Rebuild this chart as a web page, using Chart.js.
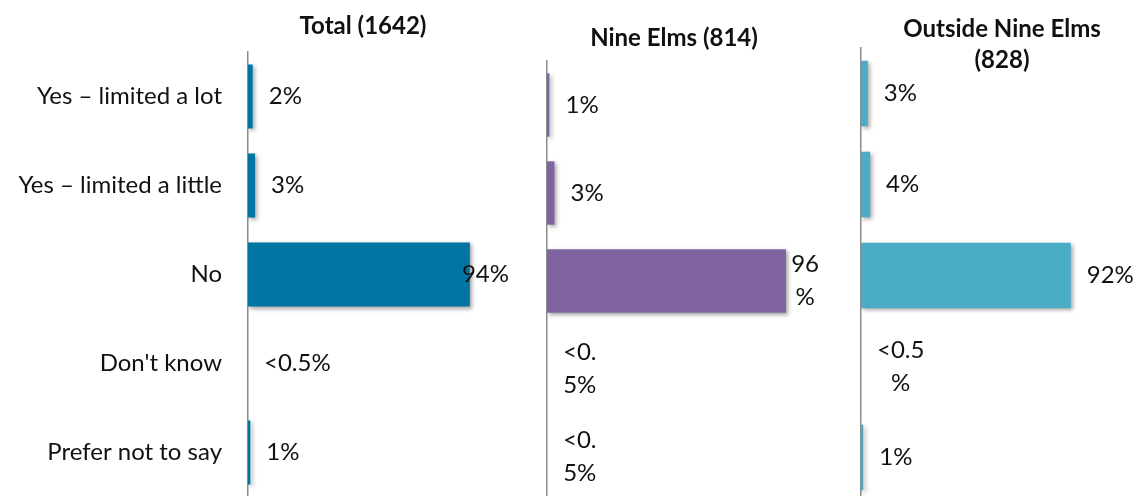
<!DOCTYPE html>
<html>
<head>
<meta charset="utf-8">
<script src="https://cdn.jsdelivr.net/npm/chart.js@4.4.1/dist/chart.umd.min.js"></script>
<style>
  html, body { margin: 0; padding: 0; background: #fff; overflow: hidden; }
  body { width: 1136px; height: 496px; position: relative; }
  canvas { position: absolute; top: 0; }
</style>
</head>
<body>
<canvas id="total" width="510" height="497" style="left:0px"></canvas>
<canvas id="nineElms" width="300" height="501" style="left:520px"></canvas>
<canvas id="outside" width="296" height="503" style="left:840px"></canvas>
<script>
// Risposte per gruppo (percentuali); 0 = meno di 0,5%
const categories = ['Yes – limited a lot', 'Yes – limited a little', 'No', "Don't know", 'Prefer not to say'];
const totalValues = [2, 3, 94, 0, 1];
const nineElmsValues = [1, 3, 96, 0, 0];
const outsideValues = [3, 4, 92, 0, 1];
const panelTitles = [['Total (1642)'], ['Nine Elms (814)'], ['Outside Nine Elms', '(828)']];

const FONT = 'Lato, "DejaVu Sans", sans-serif';
const TEXT_SIZE = 24;

function formatPct(v) {
    return v < 0.5 ? '<0.5%' : v + '%';
}

// spezza il testo carattere per carattere se supera maxW
function wrapText(ctx, text, maxW) {
    if (!maxW || ctx.measureText(text).width <= maxW) return [text];
    const lines = [];
    let cur = '';
    for (const ch of text) {
        if (cur && ctx.measureText(cur + ch).width > maxW) {
            lines.push(cur);
            cur = ch;
        } else {
            cur += ch;
        }
    }
    if (cur) lines.push(cur);
    return lines;
}

// ombra leggera sotto le barre
const barShadow = {
    id: 'barShadow',
    beforeDatasetsDraw(chart) {
        const ctx = chart.ctx;
        ctx.save();
        ctx.shadowColor = 'rgba(0,0,0,0.35)';
        ctx.shadowBlur = 4;
        ctx.shadowOffsetX = 2;
        ctx.shadowOffsetY = 2;
    },
    afterDatasetsDraw(chart) {
        chart.ctx.restore();
    }
};

// etichette dei valori a fine barra
const valueLabels = {
    id: 'valueLabels',
    afterDatasetsDraw(chart, args, opts) {
        const ctx = chart.ctx;
        const meta = chart.getDatasetMeta(0);
        const values = chart.data.datasets[0].data;
        ctx.save();
        ctx.font = TEXT_SIZE + 'px ' + FONT;
        ctx.fillStyle = '#111';
        ctx.textAlign = 'center';
        ctx.textBaseline = 'middle';
        meta.data.forEach((bar, i) => {
            const lines = wrapText(ctx, formatPct(values[i]), opts.wrap);
            const blockW = Math.max(...lines.map(l => ctx.measureText(l).width));
            const left = Math.min(bar.x + 16, chart.width - blockW - 1);
            lines.forEach((line, j) => {
                const y = bar.y + (j - (lines.length - 1) / 2) * 33;
                ctx.fillText(line, left + blockW / 2, y);
            });
        });
        ctx.restore();
    }
};

// titolo del pannello in posizione fissa
const panelTitle = {
    id: 'panelTitle',
    afterDraw(chart, args, opts) {
        const ctx = chart.ctx;
        ctx.save();
        ctx.font = 'bold 24px ' + FONT;
        ctx.fillStyle = '#111';
        ctx.textAlign = 'center';
        ctx.textBaseline = 'middle';
        opts.lines.forEach((line, j) => {
            ctx.fillText(line, opts.x, opts.y + j * 31);
        });
        ctx.restore();
    }
};

function makePanel(id, values, color, cfg) {
    new Chart(document.getElementById(id), {
        type: 'bar',
        data: {
            labels: categories,
            datasets: [{
                data: values,
                backgroundColor: color,
                borderWidth: 0,
                barPercentage: 0.72,
                categoryPercentage: 1
            }]
        },
        options: {
            indexAxis: 'y',
            responsive: false,
            animation: false,
            layout: { padding: { top: cfg.top, right: cfg.right, bottom: 0, left: 0 } },
            plugins: {
                legend: { display: false },
                tooltip: { enabled: false },
                valueLabels: { wrap: cfg.wrap },
                panelTitle: { lines: cfg.title, x: cfg.titleX, y: cfg.titleY }
            },
            scales: {
                x: { display: false, min: 0, max: 100 },
                y: {
                    grid: { display: false, drawTicks: false },
                    border: { display: true, color: '#8c8c8c', width: 1.5 },
                    ticks: {
                        display: cfg.showTicks,
                        color: '#111',
                        padding: 26,
                        autoSkip: false,
                        font: { family: FONT, size: TEXT_SIZE }
                    },
                    afterFit(scale) {
                        scale.width = cfg.axisWidth;
                        scale.paddingTop = 0;
                        scale.paddingBottom = 0;
                    }
                }
            }
        },
        plugins: [barShadow, valueLabels, panelTitle]
    });
}

makePanel('total', totalValues, '#0074a3', {
    top: 52, right: 26, axisWidth: 248, showTicks: true, wrap: 0,
    title: panelTitles[0], titleX: 363, titleY: 26
});
makePanel('nineElms', nineElmsValues, '#8064a2', {
    top: 61, right: 24, axisWidth: 27, showTicks: false, wrap: 36,
    title: panelTitles[1], titleX: 154, titleY: 38
});
makePanel('outside', outsideValues, '#4bacc6', {
    top: 48, right: 47, axisWidth: 21, showTicks: false, wrap: 50,
    title: panelTitles[2], titleX: 162, titleY: 29
});
</script>
</body>
</html>
